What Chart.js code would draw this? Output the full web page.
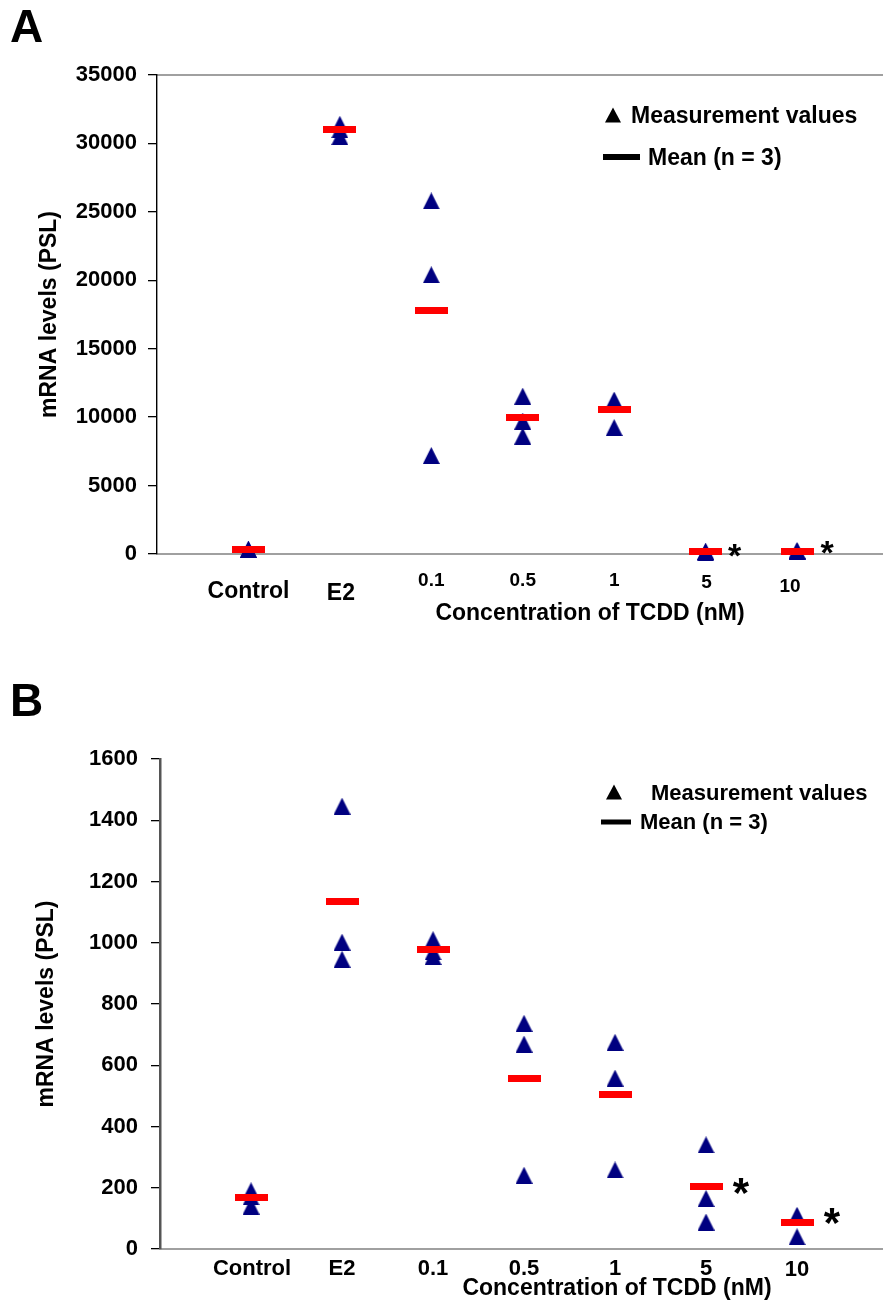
<!DOCTYPE html>
<html><head><meta charset="utf-8">
<script src="https://cdn.jsdelivr.net/npm/chart.js@4/dist/chart.umd.min.js"></script>
<style>
html,body{margin:0;padding:0;background:#fff;}
#wrap{position:relative;width:883px;height:1302px;overflow:hidden;}
canvas{position:absolute;left:0;}
</style></head><body>
<div id="wrap">
<canvas id="cA" width="883" height="650" style="top:0"></canvas>
<canvas id="cB" width="883" height="652" style="top:650px"></canvas>
</div>
<script>
// ---------- data ----------
const categories = ['Control', 'E2', '0.1', '0.5', '1', '5', '10'];
const xTitle = 'Concentration of TCDD (nM)';
const yTitle = 'mRNA levels (PSL)';
const legendPoints = 'Measurement values';
const legendMean = 'Mean (n = 3)';

// Panel A (PSL)
const measA = [
  [300, 300, 350],
  [31400, 31000, 30500],
  [25800, 20400, 7200],
  [11540, 9710, 8620],
  [11250, 11130, 9240],
  [100, 150, 200],
  [150, 200, 250]
];
const meanA = [320, 31000, 17760, 9950, 10540, 150, 200];
const yTicksA = [0, 5000, 10000, 15000, 20000, 25000, 30000, 35000];

// Panel B (PSL)
const measB = [
  [190, 170, 140],
  [1446, 1002, 946],
  [1010, 970, 955],
  [737, 669, 241],
  [675, 558, 258],
  [340, 165, 88],
  [110, 105, 40]
];
const meanB = [167, 1136, 978, 557, 503, 205, 85];
const yTicksB = [0, 200, 400, 600, 800, 1000, 1200, 1400, 1600];

const significant = [5, 6]; // category indices marked with *

// ---------- styling ----------
const FONT = "'Liberation Sans', Arial, Helvetica, sans-serif";

function makeTri(color, w, h) {
  const c = document.createElement('canvas'); c.width = w; c.height = h;
  const g = c.getContext('2d'); g.fillStyle = color;
  g.beginPath(); g.moveTo(w / 2, 0); g.lineTo(w, h); g.lineTo(0, h); g.closePath(); g.fill();
  return c;
}
function makeBar(color, w, h) {
  const c = document.createElement('canvas'); c.width = w; c.height = h;
  const g = c.getContext('2d'); g.fillStyle = color; g.fillRect(0, 0, w, h);
  return c;
}
const triImg = makeTri('#000080', 17, 17);
const barImg = makeBar('#ff0000', 33, 7);

function pts(arrs) { return arrs.flatMap((a, i) => a.map(v => ({ x: i + 1, y: v }))); }
function mpts(a) { return a.map((v, i) => ({ x: i + 1, y: v })); }

function drawTri(ctx, cx, cy, w, h) {
  ctx.beginPath(); ctx.moveTo(cx, cy - h / 2); ctx.lineTo(cx + w / 2, cy + h / 2); ctx.lineTo(cx - w / 2, cy + h / 2); ctx.closePath(); ctx.fill();
}
function star(ctx, x, cy, size) {
  ctx.font = `bold ${size}px ${FONT}`;
  ctx.textAlign = 'center'; ctx.textBaseline = 'alphabetic';
  const m = ctx.measureText('*');
  const asc = m.actualBoundingBoxAscent, desc = m.actualBoundingBoxDescent;
  ctx.fillText('*', x, cy + (asc - desc) / 2);
}

function makeChart(id, cfg) {
  return new Chart(document.getElementById(id), {
    type: 'scatter',
    data: {
      datasets: [
        { label: legendMean, data: mpts(cfg.mean), pointStyle: barImg, pointRadius: 9, clip: false },
        { label: legendPoints, data: pts(cfg.meas), pointStyle: triImg, pointRadius: 9, clip: false }
      ]
    },
    options: {
      responsive: false, animation: false, devicePixelRatio: 1, events: [],
      layout: { autoPadding: false, padding: { top: cfg.top, right: 0, bottom: 0, left: 0 } },
      plugins: { legend: { display: false }, tooltip: { enabled: false } },
      scales: {
        x: {
          type: 'linear', min: 0, max: cfg.xmax, position: 'bottom',
          ticks: { display: false }, grid: { display: false },
          border: { display: true, color: '#a0a0a0', width: 2 },
          afterFit: s => { s.height = cfg.xh; }
        },
        x2: {
          type: 'linear', min: 0, max: cfg.xmax, position: 'top', display: cfg.topLine,
          ticks: { display: false }, grid: { display: false },
          border: { display: true, color: '#a0a0a0', width: 2 },
          afterFit: s => { s.height = 0; }
        },
        y: {
          type: 'linear', min: 0, max: cfg.yTicks[cfg.yTicks.length - 1],
          afterBuildTicks: s => { s.ticks = cfg.yTicks.map(v => ({ value: v })); },
          ticks: { color: '#000', font: { family: FONT, weight: 'bold', size: 22 }, padding: cfg.tickPad, callback: v => String(v) },
          grid: { drawOnChartArea: false, drawTicks: true, tickLength: 9, color: '#000', lineWidth: 1.3 },
          border: { display: true, color: cfg.yBorder, width: cfg.yBorderW },
          title: { display: true, text: yTitle, color: '#000', font: { family: FONT, weight: 'bold', size: 23 }, padding: { top: cfg.titlePad, bottom: 0 } },
          afterFit: s => { s.width = cfg.yw; }
        }
      }
    },
    plugins: [{
      id: 'extras',
      afterDraw(chart) {
        const ctx = chart.ctx, xs = chart.scales.x, ys = chart.scales.y;
        ctx.save();
        ctx.fillStyle = '#000';
        // panel letter
        ctx.font = `bold 46px ${FONT}`; ctx.textAlign = 'left'; ctx.textBaseline = 'alphabetic';
        ctx.fillText(cfg.letter, 10, cfg.letterY);
        // category labels
        ctx.textAlign = 'center';
        categories.forEach((c, i) => {
          ctx.font = `bold ${cfg.labelSize[i]}px ${FONT}`;
          ctx.fillText(c, xs.getPixelForValue(i + 1) + cfg.labelDx[i], cfg.labelBase[i]);
        });
        // x title
        ctx.font = `bold 23px ${FONT}`;
        ctx.fillText(xTitle, cfg.xTitleX, cfg.xTitleY);
        // asterisks
        significant.forEach((ci, k) => {
          star(ctx, xs.getPixelForValue(ci + 1) + cfg.starDx[k], ys.getPixelForValue(cfg.mean[ci]) + cfg.starDy[k], cfg.starSize);
        });
        // legend
        const L = cfg.legend;
        ctx.textBaseline = 'alphabetic';
        drawTri(ctx, L.triX, L.triY, 16, 15);
        ctx.textAlign = 'left';
        ctx.font = `bold ${L.size}px ${FONT}`;
        ctx.fillText(legendPoints, L.t1X, L.t1Y);
        ctx.fillRect(L.lineX1, L.lineY - L.lineW / 2, L.lineX2 - L.lineX1, L.lineW);
        ctx.fillText(legendMean, L.t2X, L.t2Y);
        ctx.restore();
      }
    }]
  });
}

makeChart('cA', {
  meas: measA, mean: meanA, yTicks: yTicksA, xmax: 7.94, top: 75, xh: 96, yw: 157,
  topLine: true, yBorder: '#000', yBorderW: 1.4, tickPad: 11, titlePad: 36,
  letter: 'A', letterY: 42,
  labelSize: [23, 23, 19, 19, 19, 19, 19],
  labelDx: [0, 1, 0, 0, 0, 1, -7],
  labelBase: [598, 600, 586, 586, 586, 588, 592],
  xTitleX: 590, xTitleY: 620,
  starDx: [29, 30], starDy: [-1, -4], starSize: 34,
  legend: { triX: 613, triY: 115, size: 23, t1X: 631, t1Y: 123, lineX1: 603, lineX2: 640, lineY: 157, lineW: 6, t2X: 648, t2Y: 165 }
});

makeChart('cB', {
  meas: measB, mean: meanB, yTicks: yTicksB, xmax: 7.945, top: 109, xh: 53, yw: 160,
  topLine: false, yBorder: '#555', yBorderW: 2.5, tickPad: 13, titlePad: 33,
  letter: 'B', letterY: 66,
  labelSize: [22, 22, 22, 22, 22, 22, 22],
  labelDx: [1, 0, 0, 0, 0, 0, 0],
  labelBase: [625, 625, 625, 625, 625, 625, 626],
  xTitleX: 617, xTitleY: 645,
  starDx: [35, 35], starDy: [0, -7], starSize: 42,
  legend: { triX: 614, triY: 142, size: 22, t1X: 651, t1Y: 150, lineX1: 601, lineX2: 631, lineY: 172, lineW: 5, t2X: 640, t2Y: 179 }
});
</script>
</body></html>
